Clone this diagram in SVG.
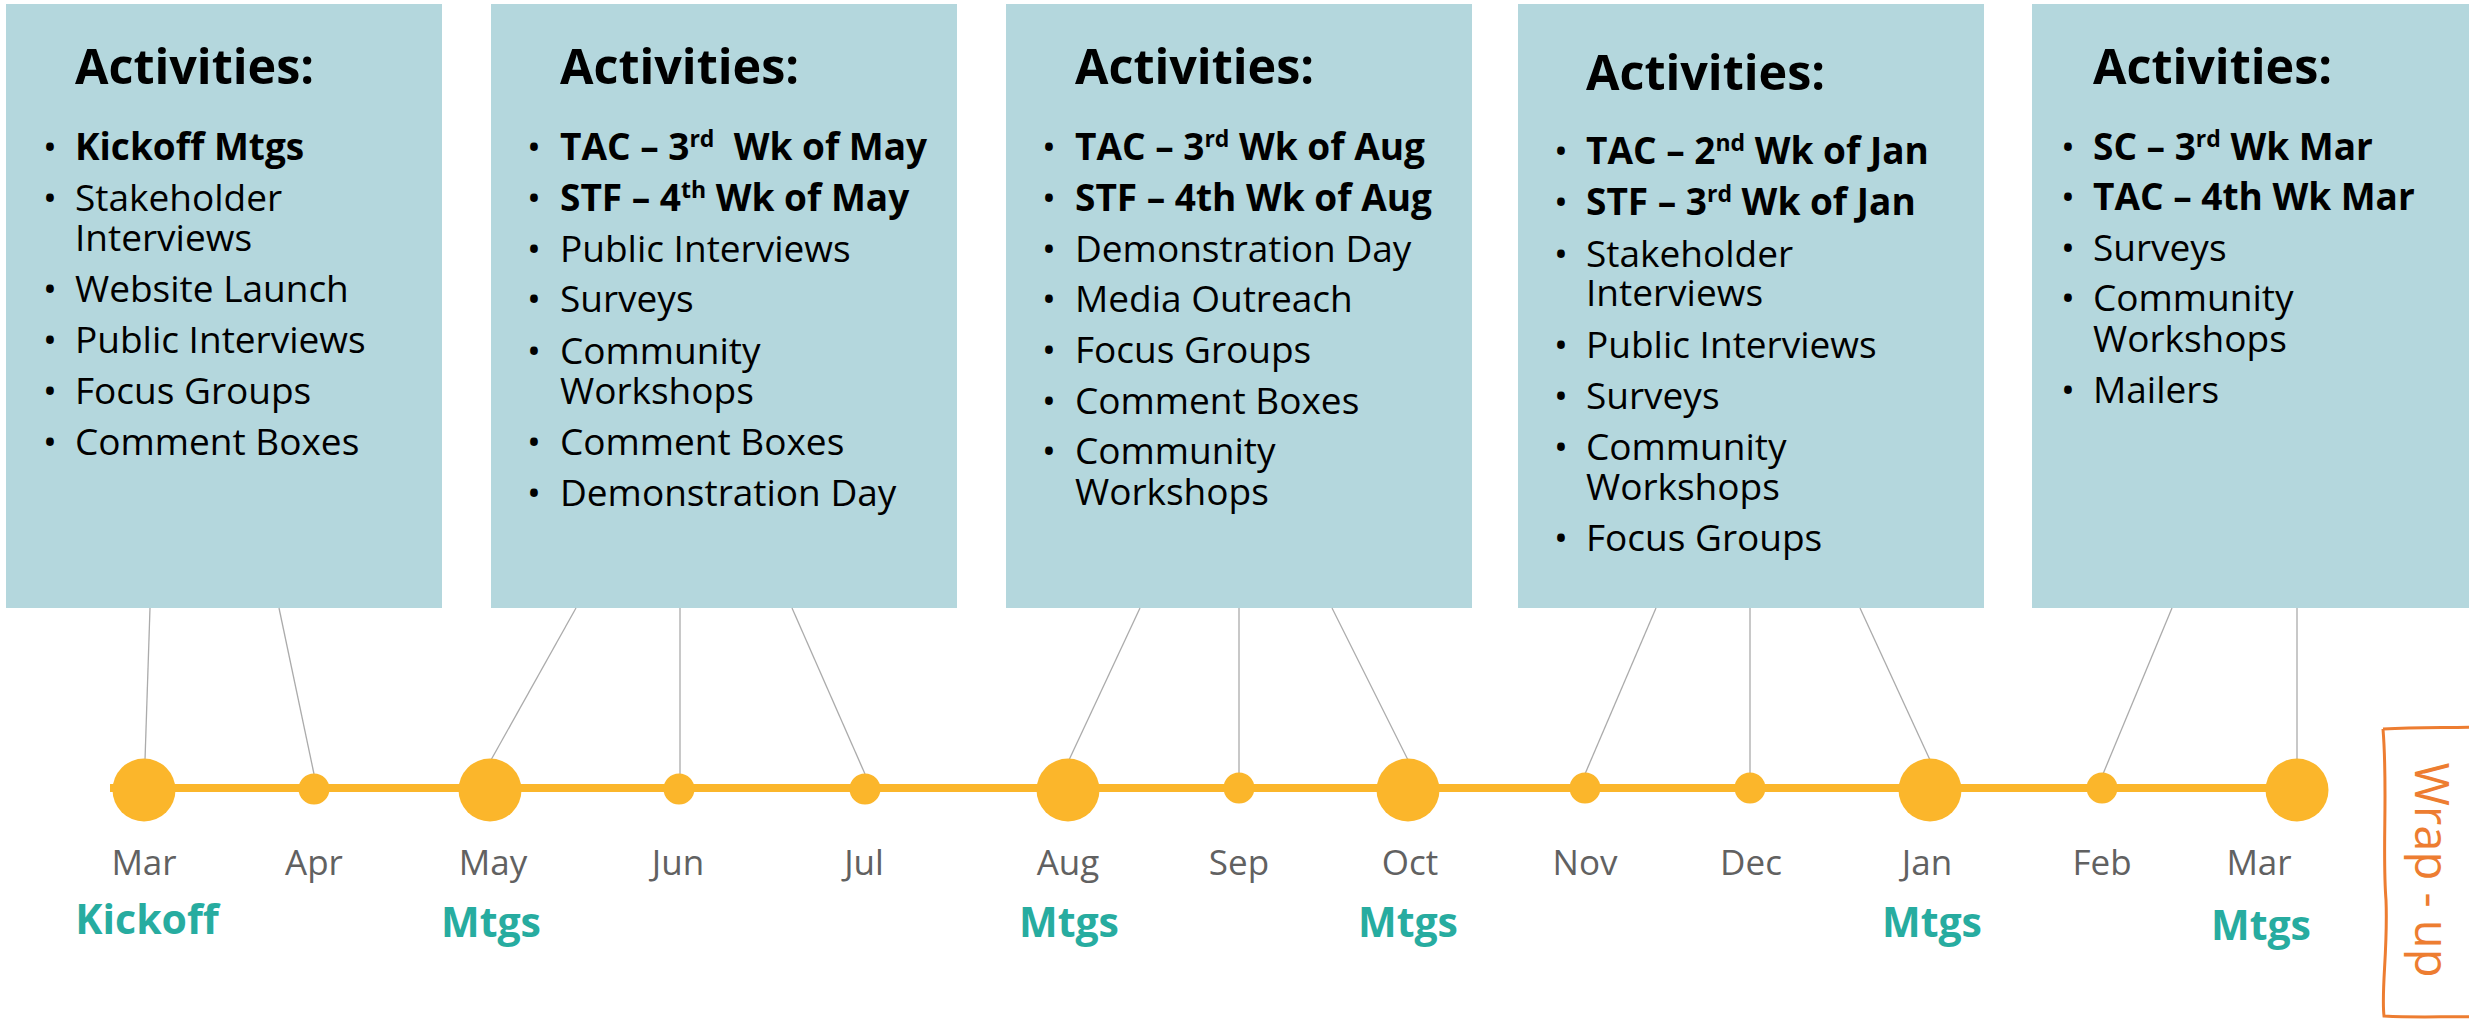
<svg xmlns="http://www.w3.org/2000/svg" width="2469" height="1020" viewBox="0 0 2469 1020">
<style>
.box{fill:#b4d7dd}
.title{font-family:"Open Sans","Liberation Sans",sans-serif;font-weight:700;font-size:48.5px;fill:#000}
.it{font-family:"Open Sans","Liberation Sans",sans-serif;font-size:37px;fill:#000}
.b{font-weight:700}
.bul{font-family:"Open Sans","Liberation Sans",sans-serif;font-size:37px;fill:#000;text-anchor:middle}
.sup{font-size:23px}
.conn{stroke:#ababab;stroke-width:1.3;fill:none}
.dot{fill:#fbb62b}
.mon{font-family:"Open Sans","Liberation Sans",sans-serif;font-weight:400;font-size:35px;fill:#616161;text-anchor:middle}
.mt{font-family:"Open Sans","Liberation Sans",sans-serif;font-weight:700;font-size:41px;fill:#27aca0;text-anchor:middle}
</style>

<g id="box-1">
<rect class="box" x="6" y="4" width="436" height="604"/>
<text class="title" x="75" y="84">Activities:</text>
<text class="bul" x="50" y="160">•</text><text class="it b" x="75" y="160">Kickoff Mtgs</text>
<text class="bul" x="50" y="211">•</text><text class="it" x="75" y="211">Stakeholder</text>
<text class="it" x="75" y="251">Interviews</text>
<text class="bul" x="50" y="302">•</text><text class="it" x="75" y="302">Website Launch</text>
<text class="bul" x="50" y="353">•</text><text class="it" x="75" y="353">Public Interviews</text>
<text class="bul" x="50" y="404">•</text><text class="it" x="75" y="404">Focus Groups</text>
<text class="bul" x="50" y="455">•</text><text class="it" x="75" y="455">Comment Boxes</text>
</g>

<g id="box-2">
<rect class="box" x="491" y="4" width="466" height="604"/>
<text class="title" x="560" y="84">Activities:</text>
<text class="bul" x="534" y="160">•</text><text class="it b" x="560" y="160">TAC – 3<tspan class="sup" dy="-13">rd</tspan><tspan dy="13" xml:space="preserve">  Wk of May</tspan></text>
<text class="bul" x="534" y="211">•</text><text class="it b" x="560" y="211">STF – 4<tspan class="sup" dy="-13">th</tspan><tspan dy="13"> Wk of May</tspan></text>
<text class="bul" x="534" y="262">•</text><text class="it" x="560" y="262">Public Interviews</text>
<text class="bul" x="534" y="312">•</text><text class="it" x="560" y="312">Surveys</text>
<text class="bul" x="534" y="364">•</text><text class="it" x="560" y="364">Community</text>
<text class="it" x="560" y="404">Workshops</text>
<text class="bul" x="534" y="455">•</text><text class="it" x="560" y="455">Comment Boxes</text>
<text class="bul" x="534" y="506">•</text><text class="it" x="560" y="506">Demonstration Day</text>
</g>

<g id="box-3">
<rect class="box" x="1006" y="4" width="466" height="604"/>
<text class="title" x="1075" y="84">Activities:</text>
<text class="bul" x="1049" y="160">•</text><text class="it b" x="1075" y="160">TAC – 3<tspan class="sup" dy="-13">rd</tspan><tspan dy="13"> Wk of Aug</tspan></text>
<text class="bul" x="1049" y="211">•</text><text class="it b" x="1075" y="211">STF – 4th Wk of Aug</text>
<text class="bul" x="1049" y="262">•</text><text class="it" x="1075" y="262">Demonstration Day</text>
<text class="bul" x="1049" y="312">•</text><text class="it" x="1075" y="312">Media Outreach</text>
<text class="bul" x="1049" y="363">•</text><text class="it" x="1075" y="363">Focus Groups</text>
<text class="bul" x="1049" y="414">•</text><text class="it" x="1075" y="414">Comment Boxes</text>
<text class="bul" x="1049" y="464">•</text><text class="it" x="1075" y="464">Community</text>
<text class="it" x="1075" y="505">Workshops</text>
</g>

<g id="box-4">
<rect class="box" x="1518" y="4" width="466" height="604"/>
<text class="title" x="1586" y="90">Activities:</text>
<text class="bul" x="1561" y="164">•</text><text class="it b" x="1586" y="164">TAC – 2<tspan class="sup" dy="-13">nd</tspan><tspan dy="13"> Wk of Jan</tspan></text>
<text class="bul" x="1561" y="215">•</text><text class="it b" x="1586" y="215">STF – 3<tspan class="sup" dy="-13">rd</tspan><tspan dy="13"> Wk of Jan</tspan></text>
<text class="bul" x="1561" y="267">•</text><text class="it" x="1586" y="267">Stakeholder</text>
<text class="it" x="1586" y="306">Interviews</text>
<text class="bul" x="1561" y="358">•</text><text class="it" x="1586" y="358">Public Interviews</text>
<text class="bul" x="1561" y="409">•</text><text class="it" x="1586" y="409">Surveys</text>
<text class="bul" x="1561" y="460">•</text><text class="it" x="1586" y="460">Community</text>
<text class="it" x="1586" y="500">Workshops</text>
<text class="bul" x="1561" y="551">•</text><text class="it" x="1586" y="551">Focus Groups</text>
</g>

<g id="box-5">
<rect class="box" x="2032" y="4" width="440" height="604"/>
<text class="title" x="2093" y="84">Activities:</text>
<text class="bul" x="2068" y="160">•</text><text class="it b" x="2093" y="160">SC – 3<tspan class="sup" dy="-13">rd</tspan><tspan dy="13"> Wk Mar</tspan></text>
<text class="bul" x="2068" y="210">•</text><text class="it b" x="2093" y="210">TAC – 4th Wk Mar</text>
<text class="bul" x="2068" y="261">•</text><text class="it" x="2093" y="261">Surveys</text>
<text class="bul" x="2068" y="311">•</text><text class="it" x="2093" y="311">Community</text>
<text class="it" x="2093" y="352">Workshops</text>
<text class="bul" x="2068" y="403">•</text><text class="it" x="2093" y="403">Mailers</text>
</g>

<g id="connectors">
<line class="conn" x1="150" y1="608" x2="145" y2="760"/>
<line class="conn" x1="279" y1="608" x2="314" y2="774"/>
<line class="conn" x1="576" y1="608" x2="491" y2="760"/>
<line class="conn" x1="680" y1="608" x2="680" y2="774"/>
<line class="conn" x1="792" y1="608" x2="865" y2="774"/>
<line class="conn" x1="1140" y1="608" x2="1069" y2="760"/>
<line class="conn" x1="1239" y1="608" x2="1239" y2="774"/>
<line class="conn" x1="1332" y1="608" x2="1408" y2="760"/>
<line class="conn" x1="1656" y1="608" x2="1585" y2="774"/>
<line class="conn" x1="1750" y1="608" x2="1750" y2="774"/>
<line class="conn" x1="1860" y1="608" x2="1930" y2="760"/>
<line class="conn" x1="2172" y1="608" x2="2103" y2="774"/>
<line class="conn" x1="2297" y1="608" x2="2297" y2="760"/>
<line x1="110" y1="788" x2="2297" y2="788" stroke="#fbb62b" stroke-width="8"/>
</g>

<g id="m-mar1"><circle class="dot" cx="144" cy="790" r="31.5"/><text class="mon" x="144" y="875">Mar</text><text class="mt" x="147" y="934">Kickoff</text></g>
<g id="m-apr"><circle class="dot" cx="314" cy="789" r="15.5"/><text class="mon" x="314" y="875">Apr</text></g>
<g id="m-may"><circle class="dot" cx="490" cy="790" r="31.5"/><text class="mon" x="493" y="875">May</text><text class="mt" x="491" y="937">Mtgs</text></g>
<g id="m-jun"><circle class="dot" cx="679" cy="789" r="15.5"/><text class="mon" x="678" y="875">Jun</text></g>
<g id="m-jul"><circle class="dot" cx="865" cy="789" r="15.5"/><text class="mon" x="864" y="875">Jul</text></g>
<g id="m-aug"><circle class="dot" cx="1068" cy="790" r="31.5"/><text class="mon" x="1068" y="875">Aug</text><text class="mt" x="1069" y="937">Mtgs</text></g>
<g id="m-sep"><circle class="dot" cx="1239" cy="788" r="15.5"/><text class="mon" x="1239" y="875">Sep</text></g>
<g id="m-oct"><circle class="dot" cx="1408" cy="790" r="31.5"/><text class="mon" x="1410" y="875">Oct</text><text class="mt" x="1408" y="937">Mtgs</text></g>
<g id="m-nov"><circle class="dot" cx="1585" cy="788" r="15.5"/><text class="mon" x="1585" y="875">Nov</text></g>
<g id="m-dec"><circle class="dot" cx="1750" cy="788" r="15.5"/><text class="mon" x="1751" y="875">Dec</text></g>
<g id="m-jan"><circle class="dot" cx="1930" cy="790" r="31.5"/><text class="mon" x="1927" y="875">Jan</text><text class="mt" x="1932" y="937">Mtgs</text></g>
<g id="m-feb"><circle class="dot" cx="2102" cy="788" r="15.5"/><text class="mon" x="2102" y="875">Feb</text></g>
<g id="m-mar2"><circle class="dot" cx="2297" cy="790" r="31.5"/><text class="mon" x="2259" y="875">Mar</text><text class="mt" x="2261" y="940">Mtgs</text></g>

<g id="wrap-up">
<path d="M2383,729 C2420,727 2450,728 2475,727 M2383,729 C2388,790 2382,850 2386,900 C2388,950 2381,990 2384,1016 C2420,1018 2450,1016 2475,1017" fill="none" stroke="#ed7d31" stroke-width="3"/>
<text transform="translate(2415,870) rotate(90)" text-anchor="middle" font-family="'Open Sans','Liberation Sans',sans-serif" font-size="48" fill="#ed7d31" textLength="215" lengthAdjust="spacingAndGlyphs">Wrap - up</text>
</g>
</svg>
